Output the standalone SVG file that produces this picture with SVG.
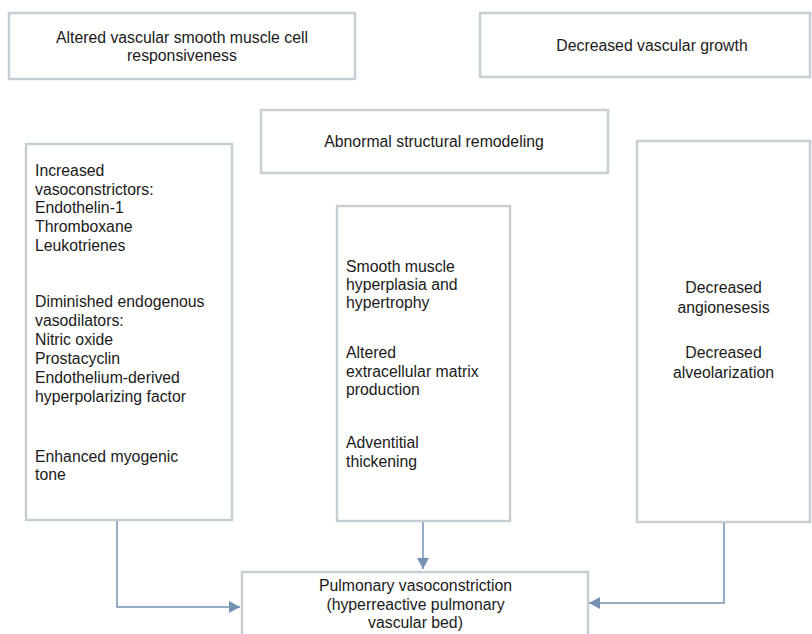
<svg xmlns="http://www.w3.org/2000/svg" width="812" height="634" viewBox="0 0 812 634">
<defs>
<style>
.box{fill:#fff;stroke:#c6cfd3;stroke-width:2.5}
.t{font-family:"Liberation Sans",Arial,sans-serif;font-size:15.8px;fill:#1a1a1a}
.c{text-anchor:middle}
.con{fill:none;stroke:#7592b3;stroke-width:1.5}
</style>
<marker id="ah" markerWidth="12" markerHeight="12" viewBox="0 0 12 12" refX="11" refY="6" orient="auto" markerUnits="userSpaceOnUse">
<path d="M0,0 L11,6 L0,12 Z" fill="#7592b3"/>
</marker>
</defs>
<rect width="812" height="634" fill="#fff"/>
<g id="n-altered">
<rect class="box" x="9" y="13" width="346" height="66"/>
<text class="t c" x="182" y="43">Altered vascular smooth muscle cell</text>
<text class="t c" x="182" y="61">responsiveness</text>
</g>
<g id="n-growth">
<rect class="box" x="480" y="13" width="330" height="64"/>
<text class="t c" x="652" y="51">Decreased vascular growth</text>
</g>
<g id="n-remodel">
<rect class="box" x="261" y="110" width="347" height="63"/>
<text class="t c" x="434" y="147">Abnormal structural remodeling</text>
</g>
<g id="n-left">
<rect class="box" x="26" y="144" width="206" height="376"/>
<text class="t" x="35" y="176">Increased</text>
<text class="t" x="35" y="195">vasoconstrictors:</text>
<text class="t" x="35" y="213">Endothelin-1</text>
<text class="t" x="35" y="232">Thromboxane</text>
<text class="t" x="35" y="251">Leukotrienes</text>
<text class="t" x="35" y="307">Diminished endogenous</text>
<text class="t" x="35" y="326">vasodilators:</text>
<text class="t" x="35" y="345">Nitric oxide</text>
<text class="t" x="35" y="364">Prostacyclin</text>
<text class="t" x="35" y="383">Endothelium-derived</text>
<text class="t" x="35" y="402">hyperpolarizing factor</text>
<text class="t" x="35" y="462">Enhanced myogenic</text>
<text class="t" x="35" y="480">tone</text>
</g>
<g id="n-middle">
<rect class="box" x="337" y="206" width="173" height="315"/>
<text class="t" x="346" y="272">Smooth muscle</text>
<text class="t" x="346" y="290">hyperplasia and</text>
<text class="t" x="346" y="308">hypertrophy</text>
<text class="t" x="346" y="358">Altered</text>
<text class="t" x="346" y="377">extracellular matrix</text>
<text class="t" x="346" y="395">production</text>
<text class="t" x="346" y="448">Adventitial</text>
<text class="t" x="346" y="467">thickening</text>
</g>
<g id="n-right">
<rect class="box" x="637" y="141" width="173" height="381"/>
<text class="t c" x="723.5" y="293">Decreased</text>
<text class="t c" x="723.5" y="313">angionesesis</text>
<text class="t c" x="723.5" y="358">Decreased</text>
<text class="t c" x="723.5" y="378">alveolarization</text>
</g>
<g id="n-bottom">
<rect class="box" x="242" y="572" width="346" height="80"/>
<text class="t c" x="415.5" y="591">Pulmonary vasoconstriction</text>
<text class="t c" x="415.5" y="610">(hyperreactive pulmonary</text>
<text class="t c" x="415.5" y="628">vascular bed)</text>
</g>
<g id="connectors">
<path class="con" d="M117,521 V607 H240" marker-end="url(#ah)"/>
<path class="con" d="M423,522 V569" marker-end="url(#ah)"/>
<path class="con" d="M724,523 V603 H589" marker-end="url(#ah)"/>
</g>
</svg>
